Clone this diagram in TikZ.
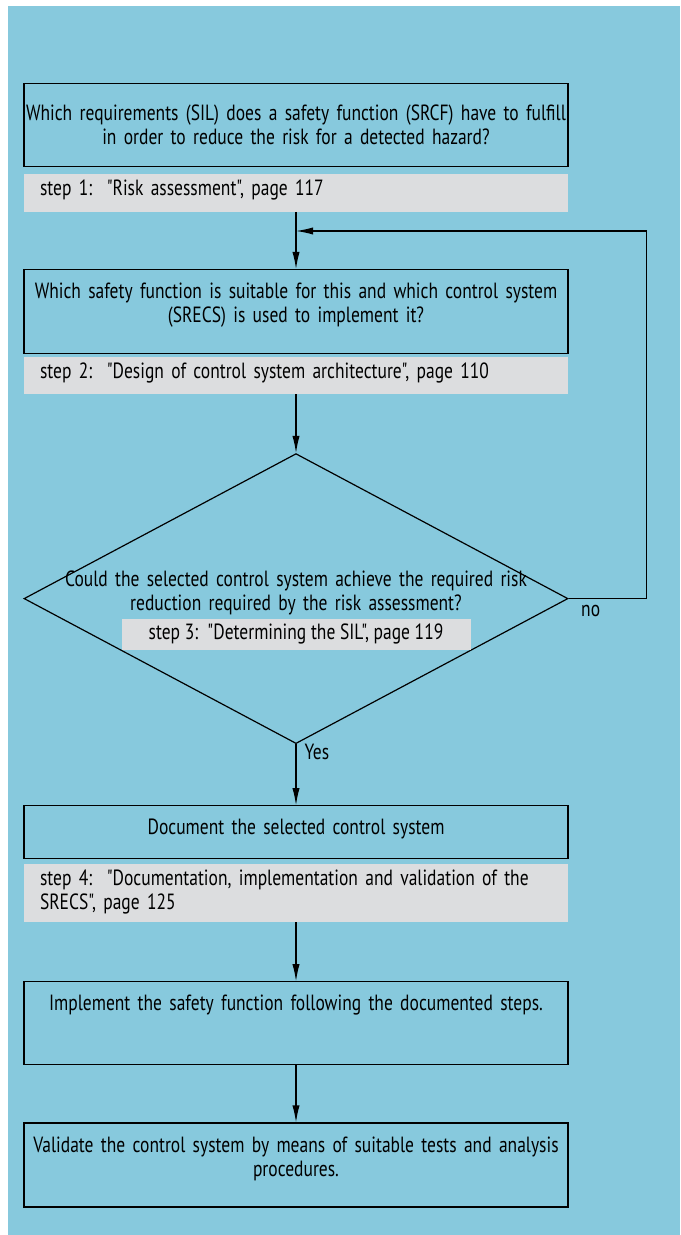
\documentclass[tikz,border=0pt]{standalone}
\usepackage{fontspec}
\setmainfont{PT Sans}[FakeStretch=0.795, Ligatures=TeXOff]
\usetikzlibrary{positioning,shapes.geometric,arrows.meta}
\definecolor{panelblue}{RGB}{135,201,221}
\definecolor{refgray}{RGB}{220,221,223}

\begin{document}
\begin{tikzpicture}[
  x=0.5pt, y=-0.5pt,
  every node/.style={font=\fontsize{11pt}{12pt}\selectfont, text=black},
  box/.style={draw, line width=0.6pt, align=center, text width=272pt, inner xsep=0pt, inner ysep=3pt, text height=11.5pt},
  ref/.style={fill=refgray, align=left, text width=256pt, inner xsep=8pt, inner ysep=3pt, text height=8pt},
  arrow/.style={-{Latex[length=8.5pt,width=3.6pt]}, line width=0.6pt}
]
\useasboundingbox (0,0) rectangle (680,1235);
\fill[panelblue] (8,6) rectangle (680,1235);

\node[box, anchor=north, text height=15.5pt, text depth=20pt] (ask1) at (296,83) {Which requirements (SIL) does a safety function (SRCF) have to fulfill\\in order to reduce the risk for a detected hazard?};
\node[ref, below=3pt of ask1, text depth=5pt] (ref1) {step 1:\ \ "Risk assessment", page 117};
\node[box, below=28.5pt of ref1, text depth=24.5pt] (ask2) {Which safety function is suitable for this and which control system\\(SRECS) is used to implement it?};
\node[ref, below=1pt of ask2, text depth=4.5pt] (ref2) {step 2:\ \ "Design of control system architecture", page 110};
\node[draw, diamond, line width=0.6pt, minimum width=272pt, minimum height=145pt, inner sep=0pt, below=29.5pt of ref2] (check) {};
\node[align=center, text width=250pt, anchor=base, inner sep=0pt] (checktxt) at ([yshift=6pt]check.center) {Could the selected control system achieve the required risk\\reduction required by the risk assessment?};
\node[fill=refgray, inner xsep=8pt, inner ysep=3pt, minimum width=174.5pt, text height=7pt, text depth=2.5pt] (ref3) at ([yshift=-18pt]check.center) {step 3:\ \ "Determining the SIL", page 119};
\node[box, below=30.5pt of check, text depth=9pt] (ask3) {Document the selected control system};
\node[ref, below=2pt of ask3, text depth=15pt] (ref4) {step 4:\ \ "Documentation, implementation and validation of the SRECS", page 125};
\node[box, below=29.5pt of ref4, text depth=24pt] (ask4) {Implement the safety function following the documented steps.};
\node[box, below=28.5pt of ask4, text depth=24.5pt] (ask5) {Validate the control system by means of suitable tests and analysis\\procedures.};

\coordinate[below=9.5pt of ref1] (join);
\draw[arrow] (ref1) -- (ask2);
\draw[arrow] (ref2) -- (check);
\draw[arrow] (check.east) -- node[pos=0, anchor=north west, xshift=4pt, yshift=-1pt, inner sep=2pt] {no} ++(39pt,0) |- (join);
\draw[arrow] (check.south) -- node[pos=0, anchor=north west, xshift=2pt, yshift=2.5pt, inner sep=2pt] {Yes} (ask3);
\draw[arrow] (ref4) -- (ask4);
\draw[arrow] (ask4) -- (ask5);
\end{tikzpicture}
\end{document}
